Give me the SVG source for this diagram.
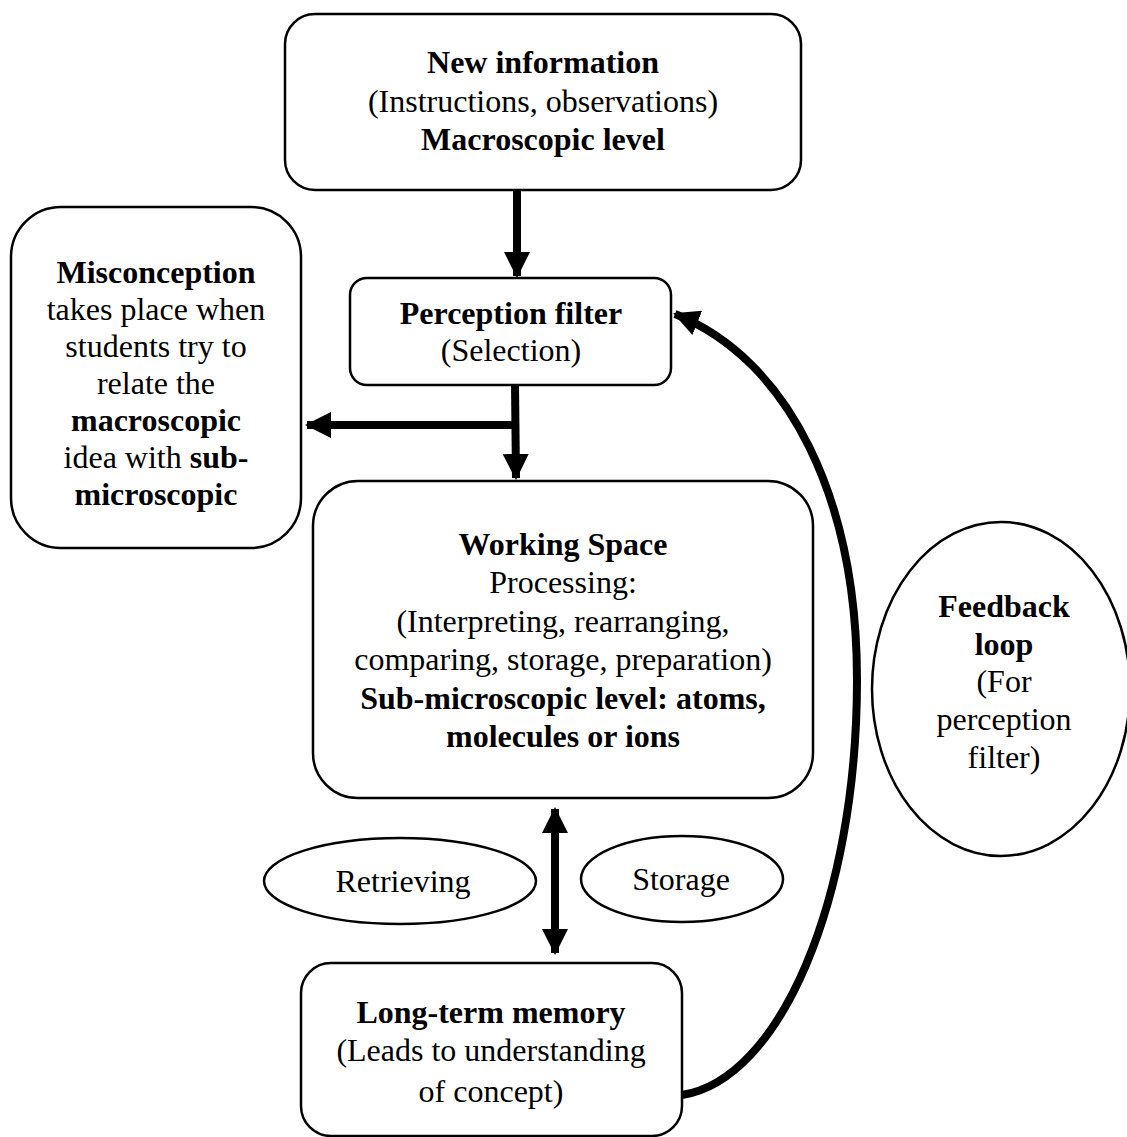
<svg xmlns="http://www.w3.org/2000/svg" width="1127" height="1137" viewBox="0 0 1127 1137">
<style>
.box{fill:#fff;stroke:#000;stroke-width:2.5}
.t{font-family:"Liberation Serif","Times New Roman",serif;font-size:32px;fill:#000;text-anchor:middle}
.b{font-weight:bold}
.con{fill:none;stroke:#000;stroke-width:8}
</style>
<defs>
<marker id="ah" markerUnits="userSpaceOnUse" markerWidth="26" markerHeight="26" viewBox="0 0 26 26" refX="24" refY="13" orient="auto-start-reverse">
<path d="M0,0 L26,13 L0,26 Z" fill="#000"/>
</marker>
</defs>
<rect width="1127" height="1137" fill="#fff"/>
<g id="connectors">
<line class="con" x1="517" y1="190" x2="517" y2="276" marker-end="url(#ah)"/>
<line class="con" x1="515" y1="385" x2="516" y2="478" marker-end="url(#ah)"/>
<line class="con" x1="519" y1="425" x2="307" y2="425" marker-end="url(#ah)"/>
<line class="con" x1="555" y1="809" x2="555" y2="953" marker-start="url(#ah)" marker-end="url(#ah)"/>
<path class="con" d="M682,1095 C780,1080 857,900 857,680 C857,500 790,360 675,314" marker-end="url(#ah)" stroke-width="7"/>
</g>
<g id="new-information">
<rect class="box" x="285" y="14" width="516" height="176" rx="30"/>
<text class="t b" x="543" y="73">New information</text>
<text class="t" x="543" y="112">(Instructions, observations)</text>
<text class="t b" x="543" y="150">Macroscopic level</text>
</g>
<g id="perception-filter">
<rect class="box" x="350" y="278" width="321" height="107" rx="17"/>
<text class="t b" x="511" y="324">Perception filter</text>
<text class="t" x="511" y="361">(Selection)</text>
</g>
<g id="misconception">
<rect class="box" x="11" y="207" width="290" height="341" rx="50"/>
<text class="t b" x="156" y="283">Misconception</text>
<text class="t" x="156" y="320">takes place when</text>
<text class="t" x="156" y="357">students try to</text>
<text class="t" x="156" y="394">relate the</text>
<text class="t b" x="156" y="431">macroscopic</text>
<text class="t" x="156" y="468">idea with <tspan font-weight="bold">sub-</tspan></text>
<text class="t b" x="156" y="505">microscopic</text>
</g>
<g id="working-space">
<rect class="box" x="313" y="481" width="500" height="317" rx="45"/>
<text class="t b" x="563" y="555">Working Space</text>
<text class="t" x="563" y="593">Processing:</text>
<text class="t" x="563" y="632">(Interpreting, rearranging,</text>
<text class="t" x="563" y="670">comparing, storage, preparation)</text>
<text class="t b" x="563" y="709">Sub-microscopic level: atoms,</text>
<text class="t b" x="563" y="747">molecules or ions</text>
</g>
<g id="feedback-loop">
<ellipse class="box" cx="1001" cy="689" rx="129" ry="167"/>
<text class="t b" x="1004" y="617">Feedback</text>
<text class="t b" x="1004" y="655">loop</text>
<text class="t" x="1004" y="692">(For</text>
<text class="t" x="1004" y="730">perception</text>
<text class="t" x="1004" y="768">filter)</text>
</g>
<g id="retrieving">
<ellipse class="box" cx="400" cy="881" rx="136" ry="43"/>
<text class="t" x="403" y="892">Retrieving</text>
</g>
<g id="storage">
<ellipse class="box" cx="682" cy="879" rx="101" ry="43"/>
<text class="t" x="681" y="890">Storage</text>
</g>
<g id="long-term-memory">
<rect class="box" x="301" y="963" width="381" height="173" rx="30"/>
<text class="t b" x="491" y="1023">Long-term memory</text>
<text class="t" x="491" y="1061">(Leads to understanding</text>
<text class="t" x="491" y="1102">of concept)</text>
</g>
</svg>
